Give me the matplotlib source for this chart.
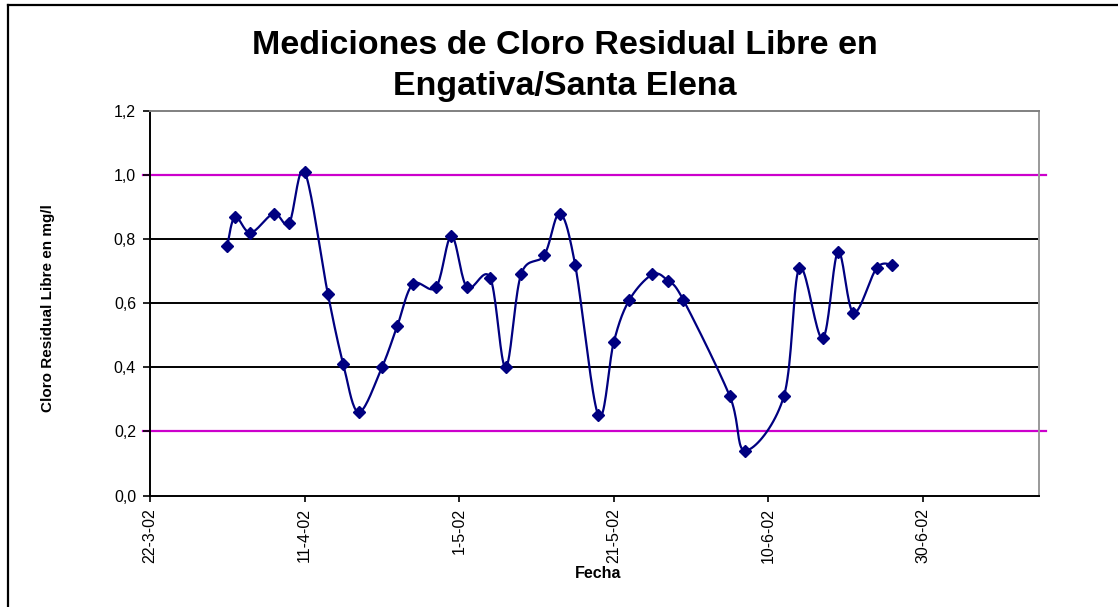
import matplotlib
matplotlib.use('Agg')
import matplotlib.pyplot as plt
import matplotlib.dates as mdates
from matplotlib.lines import Line2D
import numpy as np
import datetime

matplotlib.rcParams['font.family'] = ['Liberation Sans', 'DejaVu Sans']

# datos
fechas = ['2002-04-01', '2002-04-02', '2002-04-04', '2002-04-07', '2002-04-09', '2002-04-11',
          '2002-04-14', '2002-04-16', '2002-04-18', '2002-04-21', '2002-04-23', '2002-04-25',
          '2002-04-28', '2002-04-30', '2002-05-02', '2002-05-05', '2002-05-07', '2002-05-09',
          '2002-05-12', '2002-05-14', '2002-05-16', '2002-05-19', '2002-05-21', '2002-05-23',
          '2002-05-26', '2002-05-28', '2002-05-30', '2002-06-05', '2002-06-07', '2002-06-12',
          '2002-06-14', '2002-06-17', '2002-06-19', '2002-06-21', '2002-06-24', '2002-06-26']
cloro = [0.78, 0.87, 0.82, 0.88, 0.85, 1.01,
         0.63, 0.41, 0.26, 0.40, 0.53, 0.66,
         0.65, 0.81, 0.65, 0.68, 0.40, 0.69,
         0.75, 0.88, 0.72, 0.25, 0.48, 0.61,
         0.69, 0.67, 0.61, 0.31, 0.14, 0.31,
         0.71, 0.49, 0.76, 0.57, 0.71, 0.72]
limites = [0.2, 1.0]          # lineas magenta
lineas_negras = [0.4, 0.6, 0.8]
y_ticks = [0.0, 0.2, 0.4, 0.6, 0.8, 1.0, 1.2]
fecha_ini = '2002-03-22'
fecha_fin = '2002-07-15'


def suavizar(x, y, n=20):
    # curva suavizada tipo Excel (Catmull-Rom)
    px = np.concatenate([[x[0]], x, [x[-1]]])
    py = np.concatenate([[y[0]], y, [y[-1]]])
    xs, ys = [], []
    t = np.linspace(0, 1, n, endpoint=False)
    for i in range(1, len(px) - 2):
        p0x, p1x, p2x, p3x = px[i - 1], px[i], px[i + 1], px[i + 2]
        p0y, p1y, p2y, p3y = py[i - 1], py[i], py[i + 1], py[i + 2]
        c1x, c1y = p1x + (p2x - p0x) / 6, p1y + (p2y - p0y) / 6
        c2x, c2y = p2x - (p3x - p1x) / 6, p2y - (p3y - p1y) / 6
        b = [(1 - t) ** 3, 3 * (1 - t) ** 2 * t, 3 * (1 - t) * t ** 2, t ** 3]
        xs.append(b[0] * p1x + b[1] * c1x + b[2] * c2x + b[3] * p2x)
        ys.append(b[0] * p1y + b[1] * c1y + b[2] * c2y + b[3] * p2y)
    xs.append([x[-1]])
    ys.append([y[-1]])
    return np.concatenate(xs), np.concatenate(ys)


W, H = 1118, 607
fig = plt.figure(figsize=(W / 100, H / 100), dpi=100)
ax = fig.add_axes([150 / W, 1 - 495.5 / H, (1039 - 150) / W, (495.5 - 111) / H])

x = mdates.date2num([datetime.datetime.strptime(f, '%Y-%m-%d') for f in fechas])
y = np.array(cloro)

for v in lineas_negras:
    ax.axhline(v, color='black', lw=1.4, zorder=1)
for v in limites:
    ax.plot([-0.008, 1.008], [v, v], color='#cc00cc', lw=1.6, zorder=1,
            transform=ax.get_yaxis_transform(), clip_on=False)

xs, ys = suavizar(x, y)
ax.plot(xs, ys, color='#000080', lw=1.6, zorder=2)
ax.plot(x, y, 'D', color='#000080', markersize=6.5, zorder=3)

x0 = mdates.date2num(datetime.datetime.strptime(fecha_ini, '%Y-%m-%d'))
x1 = mdates.date2num(datetime.datetime.strptime(fecha_fin, '%Y-%m-%d'))
ax.set_xlim(x0, x1)
ax.set_ylim(0, 1.2)
ax.set_xticks(np.arange(x0, x1, 20))
ax.xaxis.set_major_formatter(plt.FuncFormatter(
    lambda v, p: '%d-%d-%s' % (mdates.num2date(v).day, mdates.num2date(v).month,
                               mdates.num2date(v).strftime('%y'))))
ax.set_yticks(y_ticks)
ax.set_yticklabels([('%.1f' % v).replace('.', ',') for v in y_ticks])
ax.tick_params(axis='x', labelrotation=90, length=4, width=1.2, pad=5, labelsize=11.5)
ax.tick_params(axis='y', length=5, width=1.2, pad=5, labelsize=11.5)

ax.spines['left'].set_linewidth(1.4)
ax.spines['bottom'].set_linewidth(1.4)
ax.spines['top'].set_color('#808080')
ax.spines['right'].set_color('#999999')
ax.spines['top'].set_linewidth(1.4)
ax.spines['right'].set_linewidth(1.4)

fig.text(565 / W, 1 - 46 / H, 'Mediciones de Cloro Residual Libre en',
         ha='center', va='center', fontsize=24.5, fontweight='bold')
fig.text(565 / W, 1 - 86 / H, 'Engativa/Santa Elena',
         ha='center', va='center', fontsize=24.5, fontweight='bold')
fig.text(48 / W, 1 - 308 / H, 'Cloro Residual Libre en mg/l', rotation=90,
         ha='center', va='center', fontsize=11, fontweight='bold')
fig.text(598 / W, 1 - 573 / H, 'Fecha', ha='center', va='center',
         fontsize=11.5, fontweight='bold')

# borde exterior del grafico
fig.add_artist(Line2D([7.5 / W, 7.5 / W], [0, 1 - 5 / H], color='black', lw=1.6))
fig.add_artist(Line2D([7.5 / W, 1], [1 - 5 / H, 1 - 5 / H], color='black', lw=1.6))

plt.savefig('out.png', dpi=100)
